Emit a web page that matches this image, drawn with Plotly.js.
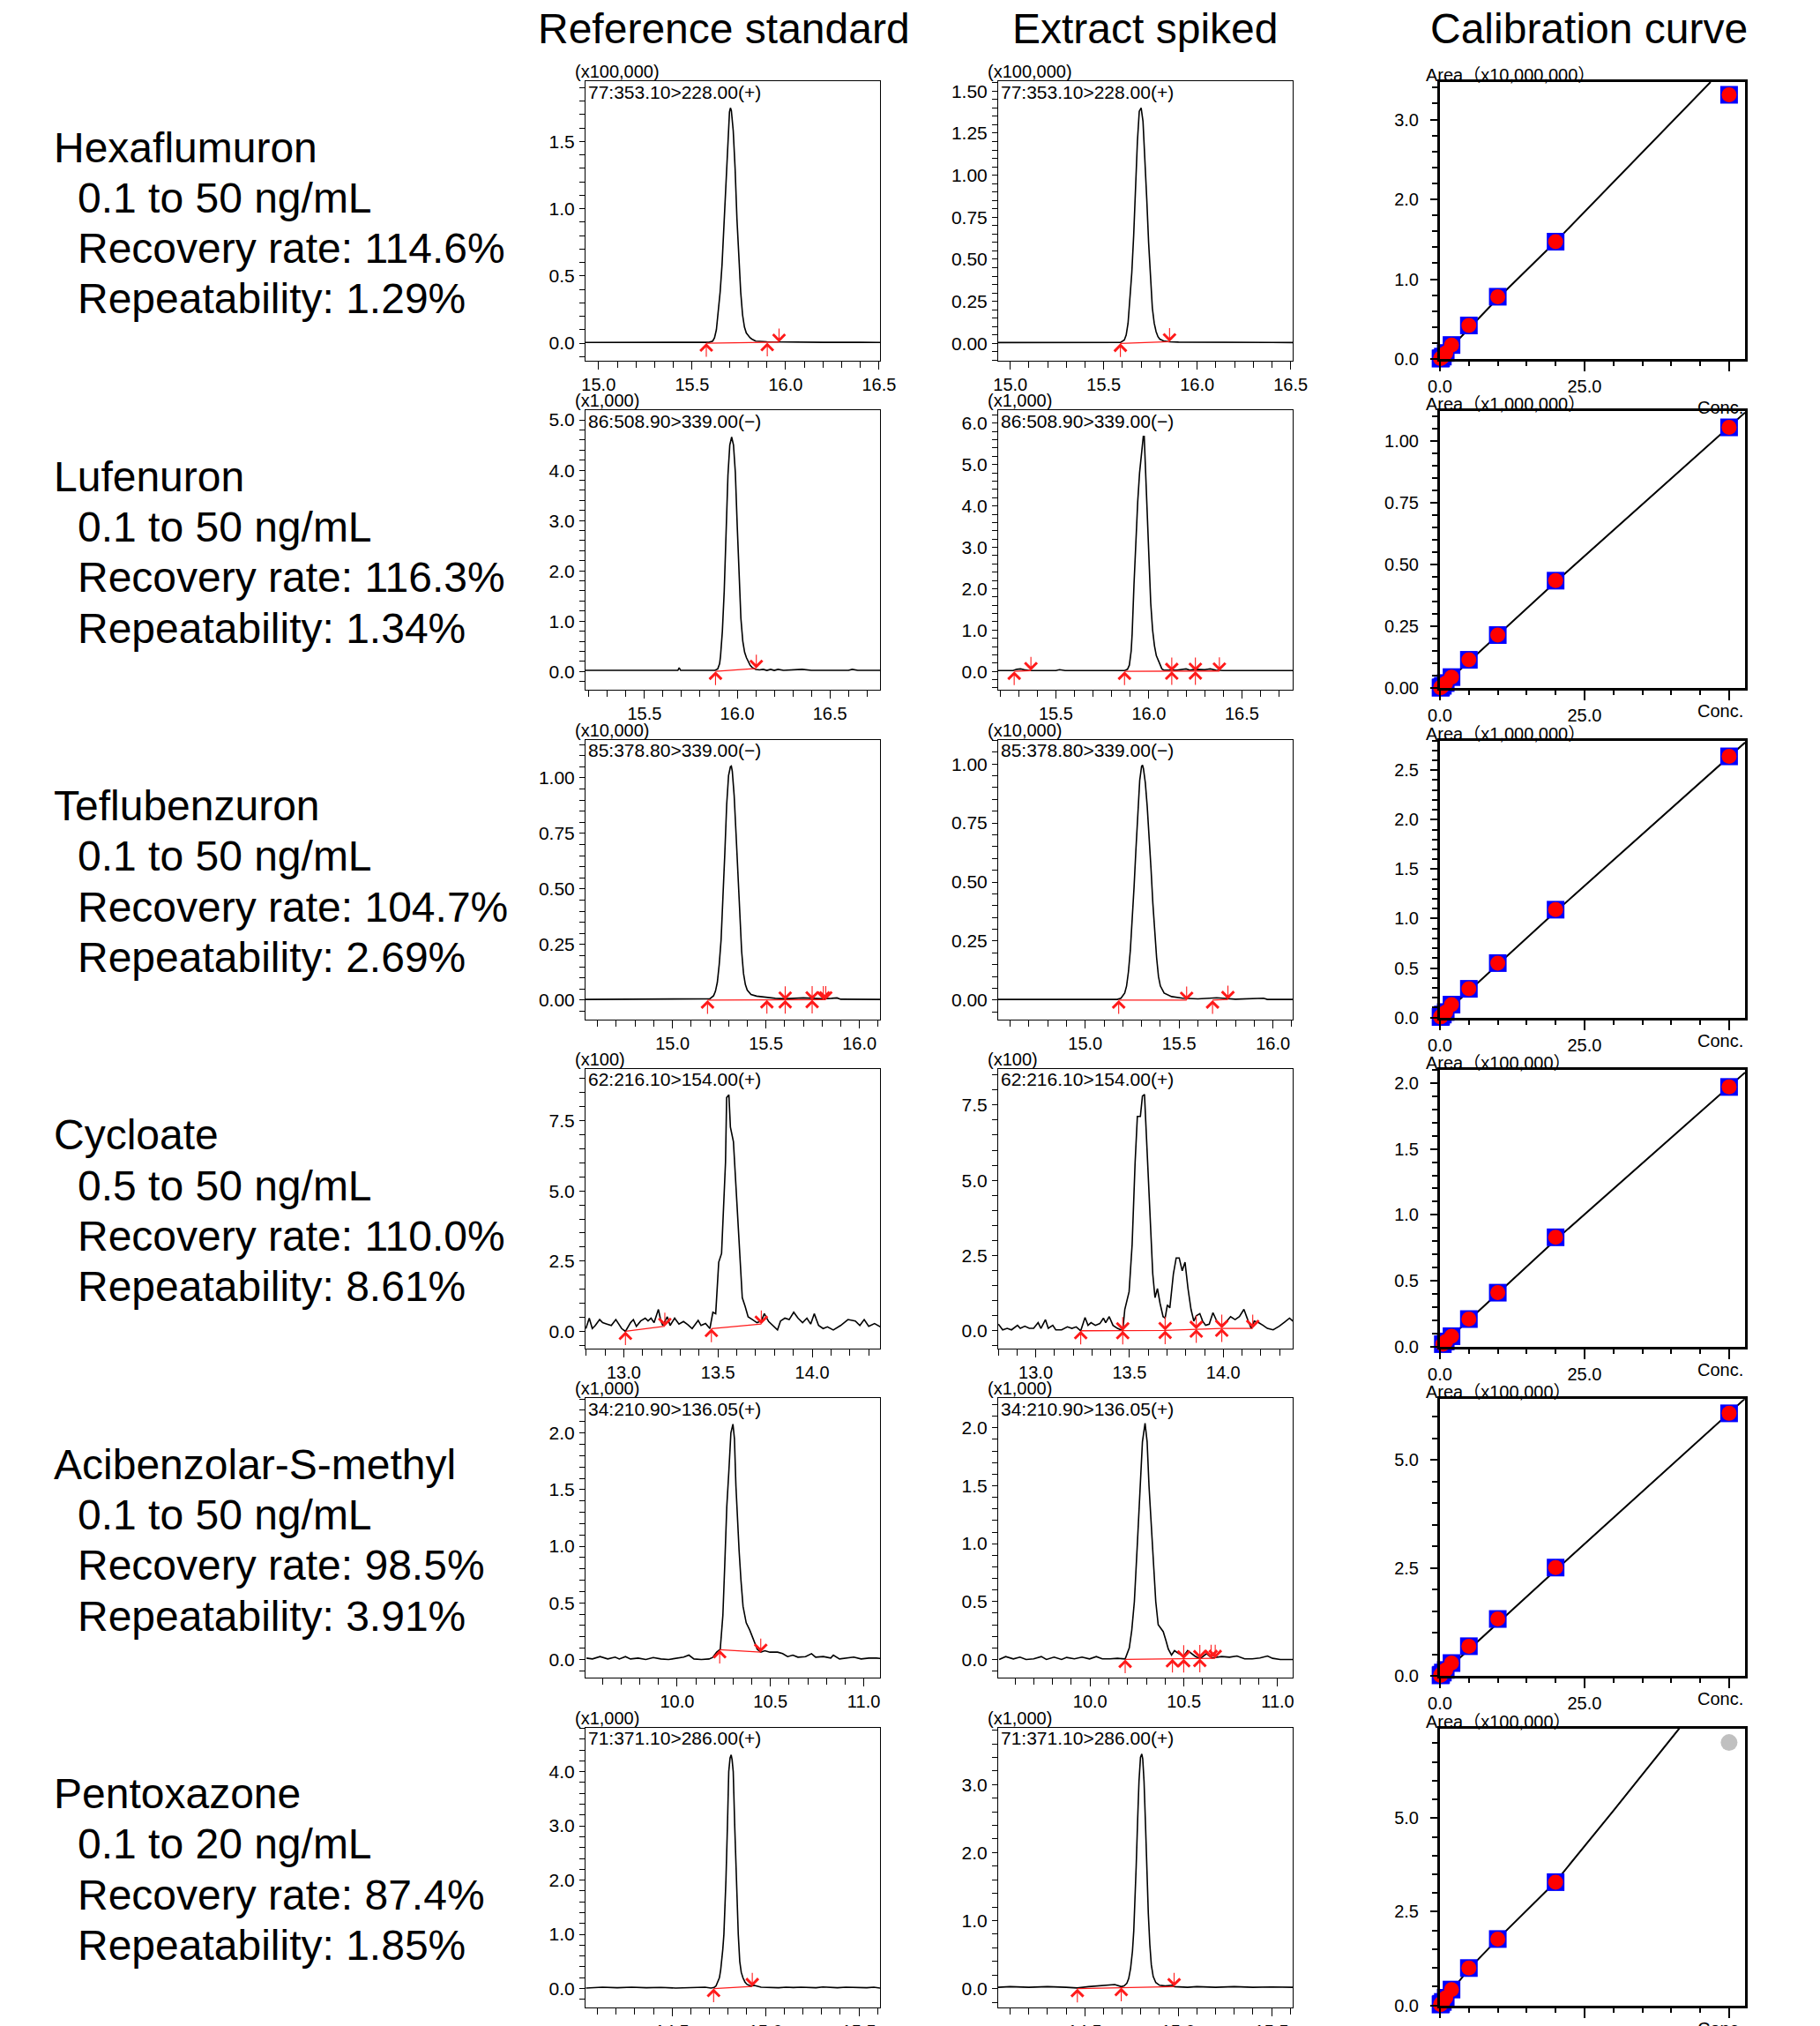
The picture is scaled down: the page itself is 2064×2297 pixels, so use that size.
<!DOCTYPE html>
<html><head><meta charset="utf-8">
<script src="https://cdn.plot.ly/plotly-3.0.1.min.js"></script>
<style>html,body{margin:0;padding:0;background:#fff;}#chart{width:2064px;height:2297px;}</style>
</head><body><div id="chart"></div>
<script>
// ================= DATA =================
const columnTitles = ['Reference standard', 'Extract spiked', 'Calibration curve'];
const compounds = ['Hexaflumuron', 'Lufenuron', 'Teflubenzuron', 'Cycloate', 'Acibenzolar-S-methyl', 'Pentoxazone'];
const calRanges = ['0.1 to 50 ng/mL', '0.1 to 50 ng/mL', '0.1 to 50 ng/mL', '0.5 to 50 ng/mL', '0.1 to 50 ng/mL', '0.1 to 20 ng/mL'];
const recoveryRates = ['114.6%', '116.3%', '104.7%', '110.0%', '98.5%', '87.4%'];
const repeatabilities = ['1.29%', '1.34%', '2.69%', '8.61%', '3.91%', '1.85%'];
const transitions = ['77:353.10>228.00(+)', '86:508.90>339.00(\u2212)', '85:378.80>339.00(\u2212)', '62:216.10>154.00(+)', '34:210.90>136.05(+)', '71:371.10>286.00(+)'];
const intensityScales = ['(x100,000)', '(x1,000)', '(x10,000)', '(x100)', '(x1,000)', '(x1,000)'];
const areaScales = ['Area\uFF08x10,000,000\uFF09', 'Area\uFF08x1,000,000\uFF09', 'Area\uFF08x1,000,000\uFF09', 'Area\uFF08x100,000\uFF09', 'Area\uFF08x100,000\uFF09', 'Area\uFF08x100,000\uFF09'];
const concTickLabels = ['0.0', '25.0', 'Conc.'];

// chromatograms: [retention time (min), intensity]
const hexaRefPts = [[14.93,0.005],[15.2,0.005],[15.4,0.005],[15.55,0.005],[15.59,0.006],[15.61,0.015],[15.62,0.04],[15.63,0.10],[15.64,0.22],[15.65,0.38],[15.66,0.58],[15.67,0.88],[15.68,1.22],[15.69,1.52],[15.70,1.72],[15.705,1.75],[15.71,1.73],[15.72,1.58],[15.73,1.30],[15.74,0.92],[15.75,0.62],[15.76,0.38],[15.77,0.21],[15.78,0.12],[15.79,0.075],[15.80,0.055],[15.81,0.04],[15.82,0.03],[15.84,0.015],[15.9,0.01],[16.0,0.008],[16.2,0.006],[16.4,0.006],[16.505,0.005]];
const hexaSpkPts = [[14.935,0.005],[15.2,0.005],[15.4,0.005],[15.55,0.005],[15.59,0.006],[15.61,0.02],[15.62,0.05],[15.63,0.12],[15.64,0.25],[15.65,0.42],[15.66,0.64],[15.67,0.92],[15.68,1.20],[15.69,1.38],[15.70,1.40],[15.71,1.32],[15.72,1.12],[15.73,0.86],[15.74,0.60],[15.75,0.38],[15.76,0.21],[15.77,0.12],[15.78,0.07],[15.79,0.04],[15.80,0.025],[15.82,0.015],[15.85,0.01],[15.9,0.008],[16.0,0.008],[16.2,0.006],[16.3,0.009],[16.4,0.006],[16.511,0.005]];
const lufeRefPts = [[15.18,0.02],[15.4,0.02],[15.6,0.02],[15.68,0.02],[15.687,0.07],[15.695,0.02],[15.8,0.02],[15.88,0.02],[15.895,0.05],[15.905,0.15],[15.91,0.30],[15.915,0.50],[15.92,0.80],[15.93,1.60],[15.94,2.80],[15.95,3.90],[15.96,4.50],[15.97,4.66],[15.98,4.50],[15.99,3.95],[16.00,2.90],[16.01,1.80],[16.02,1.05],[16.03,0.60],[16.04,0.38],[16.05,0.27],[16.06,0.18],[16.07,0.12],[16.08,0.08],[16.10,0.04],[16.12,0.03],[16.14,0.04],[16.16,0.02],[16.18,0.04],[16.2,0.02],[16.22,0.04],[16.25,0.02],[16.3,0.03],[16.35,0.04],[16.4,0.02],[16.5,0.02],[16.6,0.02],[16.62,0.04],[16.65,0.02],[16.77,0.02]];
const lufeSpkPts = [[15.19,0.02],[15.25,0.02],[15.27,0.02],[15.29,0.05],[15.31,0.06],[15.33,0.04],[15.36,0.02],[15.4,0.02],[15.5,0.02],[15.52,0.04],[15.55,0.02],[15.7,0.02],[15.87,0.02],[15.885,0.05],[15.895,0.15],[15.905,0.5],[15.91,0.9],[15.92,2.1],[15.93,3.2],[15.94,4.1],[15.95,4.8],[15.96,5.3],[15.97,5.68],[15.975,5.68],[15.98,5.1],[15.99,3.6],[16.00,2.55],[16.01,1.65],[16.02,1.0],[16.03,0.62],[16.04,0.38],[16.05,0.26],[16.06,0.14],[16.07,0.06],[16.08,0.03],[16.1,0.03],[16.15,0.03],[16.2,0.06],[16.22,0.03],[16.25,0.05],[16.3,0.04],[16.33,0.06],[16.36,0.03],[16.4,0.02],[16.5,0.02],[16.6,0.02],[16.7,0.02],[16.773,0.02]];
const teflRefPts = [[14.535,0.003],[14.8,0.003],[15.0,0.003],[15.18,0.003],[15.20,0.006],[15.22,0.02],[15.23,0.04],[15.24,0.08],[15.25,0.16],[15.26,0.27],[15.27,0.44],[15.28,0.66],[15.29,0.88],[15.30,1.01],[15.31,1.05],[15.315,1.053],[15.32,1.03],[15.33,0.92],[15.34,0.75],[15.35,0.56],[15.36,0.38],[15.37,0.22],[15.38,0.12],[15.39,0.07],[15.40,0.045],[15.42,0.025],[15.45,0.018],[15.5,0.012],[15.55,0.008],[15.6,0.006],[15.65,0.008],[15.7,0.01],[15.75,0.008],[15.8,0.006],[15.85,0.008],[15.88,0.01],[15.9,0.004],[16.0,0.003],[16.11,0.003]];
const teflSpkPts = [[14.535,0.003],[14.8,0.003],[15.0,0.003],[15.17,0.003],[15.19,0.008],[15.21,0.03],[15.22,0.06],[15.23,0.12],[15.24,0.21],[15.25,0.33],[15.26,0.48],[15.27,0.64],[15.28,0.81],[15.29,0.93],[15.30,0.99],[15.305,0.995],[15.31,0.98],[15.32,0.92],[15.33,0.82],[15.34,0.70],[15.35,0.56],[15.36,0.41],[15.37,0.29],[15.38,0.18],[15.39,0.10],[15.40,0.06],[15.42,0.03],[15.46,0.015],[15.52,0.008],[15.6,0.005],[15.7,0.01],[15.75,0.006],[15.8,0.004],[15.95,0.008],[15.97,0.003],[16.105,0.003]];
const cyclRefPts = [[12.799,0.10],[12.817,0.47],[12.833,0.10],[12.849,0.21],[12.872,0.42],[12.888,0.31],[12.911,0.26],[12.934,0.21],[12.958,0.42],[12.973,0.26],[12.989,0.10],[13.009,0.0],[13.036,0.31],[13.051,0.42],[13.067,0.18],[13.09,0.37],[13.114,0.47],[13.129,0.37],[13.145,0.47],[13.161,0.31],[13.184,0.78],[13.197,0.37],[13.207,0.21],[13.231,0.52],[13.246,0.21],[13.27,0.47],[13.293,0.26],[13.317,0.35],[13.34,0.24],[13.363,0.10],[13.395,0.39],[13.41,0.21],[13.434,0.28],[13.457,0.10],[13.473,0.68],[13.488,0.63],[13.504,2.46],[13.519,2.77],[13.527,4.13],[13.54,6.01],[13.546,8.32],[13.558,8.42],[13.566,7.27],[13.582,6.75],[13.598,4.86],[13.613,2.88],[13.629,1.20],[13.644,0.89],[13.66,0.52],[13.683,0.42],[13.707,0.31],[13.73,0.37],[13.746,0.63],[13.769,0.35],[13.793,0.21],[13.816,0.05],[13.832,0.37],[13.855,0.47],[13.878,0.42],[13.902,0.68],[13.925,0.47],[13.949,0.31],[13.972,0.47],[13.992,0.26],[14.011,0.63],[14.034,0.21],[14.058,0.10],[14.081,0.16],[14.112,0.05],[14.151,0.21],[14.19,0.42],[14.229,0.37],[14.253,0.21],[14.276,0.42],[14.3,0.18],[14.331,0.28],[14.362,0.16]];
const cyclSpkPts = [[12.801,0.22],[12.824,0.03],[12.848,0.08],[12.871,0.03],[12.903,0.18],[12.918,0.08],[12.942,0.15],[12.966,0.08],[12.989,0.08],[13.013,0.27],[13.028,0.08],[13.052,0.37],[13.067,0.08],[13.091,0.18],[13.107,0.03],[13.138,0.03],[13.169,0.13],[13.193,0.08],[13.216,0.13],[13.24,0.0],[13.263,0.44],[13.279,0.18],[13.295,0.27],[13.318,0.18],[13.342,0.24],[13.361,0.42],[13.373,0.27],[13.392,0.47],[13.412,0.18],[13.436,0.08],[13.464,0.0],[13.475,0.71],[13.498,1.30],[13.514,2.86],[13.53,5.6],[13.542,7.12],[13.558,7.12],[13.569,7.8],[13.58,7.85],[13.588,6.77],[13.6,4.82],[13.611,3.35],[13.624,1.89],[13.636,1.10],[13.649,1.40],[13.663,0.91],[13.679,0.47],[13.69,0.42],[13.702,0.86],[13.715,0.76],[13.734,1.89],[13.749,2.42],[13.765,2.42],[13.781,1.99],[13.796,2.28],[13.812,1.40],[13.828,0.71],[13.843,0.32],[13.856,0.50],[13.875,0.57],[13.89,0.32],[13.906,0.18],[13.925,0.22],[13.945,0.60],[13.969,0.27],[13.992,0.18],[14.016,0.30],[14.039,0.47],[14.063,0.37],[14.086,0.47],[14.11,0.71],[14.133,0.32],[14.149,0.08],[14.165,0.32],[14.188,0.27],[14.212,0.18],[14.235,0.08],[14.266,0.03],[14.298,0.15],[14.329,0.30],[14.353,0.42],[14.371,0.32]];
const aciRefPts = [[9.514,0.013],[9.546,0.005],[9.587,0.026],[9.628,0.005],[9.668,0.021],[9.69,0.005],[9.723,0.026],[9.75,0.005],[9.791,0.013],[9.832,0.0],[9.872,0.018],[9.913,0.005],[9.954,0.0],[9.995,0.013],[10.035,0.021],[10.063,0.039],[10.09,0.005],[10.13,0.0],[10.171,0.005],[10.19,0.018],[10.212,0.065],[10.231,0.091],[10.245,0.39],[10.255,0.83],[10.266,1.35],[10.277,1.66],[10.288,2.0],[10.299,2.078],[10.307,1.95],[10.315,1.53],[10.323,1.22],[10.332,0.96],[10.342,0.70],[10.353,0.47],[10.37,0.325],[10.389,0.26],[10.408,0.18],[10.429,0.091],[10.448,0.065],[10.47,0.078],[10.497,0.065],[10.538,0.065],[10.565,0.052],[10.592,0.026],[10.62,0.039],[10.647,0.021],[10.688,0.026],[10.72,0.052],[10.742,0.021],[10.783,0.026],[10.823,0.013],[10.837,0.039],[10.87,0.005],[10.905,0.013],[10.946,0.021],[10.986,0.005],[11.027,0.013],[11.068,0.013],[11.09,0.01]];
const aciSpkPts = [[9.515,0.0],[9.55,0.025],[9.591,0.005],[9.626,0.02],[9.659,0.0],[9.699,0.005],[9.74,0.025],[9.767,0.0],[9.808,0.02],[9.848,0.0],[9.875,0.018],[9.916,0.005],[9.957,0.02],[9.997,0.005],[10.033,0.025],[10.065,0.005],[10.106,0.005],[10.146,0.01],[10.187,0.005],[10.209,0.10],[10.222,0.25],[10.236,0.50],[10.252,1.0],[10.266,1.5],[10.279,1.88],[10.293,2.04],[10.304,1.88],[10.314,1.5],[10.331,1.0],[10.35,0.5],[10.363,0.30],[10.377,0.27],[10.39,0.24],[10.404,0.165],[10.417,0.09],[10.434,0.038],[10.45,0.076],[10.477,0.046],[10.499,0.03],[10.52,0.076],[10.558,0.03],[10.585,0.005],[10.621,0.05],[10.648,0.013],[10.702,0.025],[10.743,0.02],[10.783,0.03],[10.824,0.005],[10.864,0.005],[10.905,0.013],[10.946,0.03],[10.973,0.01],[11.014,0.0],[11.087,0.0]];
const pentRefPts = [[14.038,0.01],[14.127,0.027],[14.206,0.016],[14.283,0.027],[14.362,0.016],[14.44,0.022],[14.519,0.01],[14.598,0.022],[14.676,0.027],[14.708,0.011],[14.725,0.022],[14.735,0.05],[14.745,0.12],[14.753,0.2],[14.76,0.35],[14.765,0.5],[14.771,0.72],[14.777,1.0],[14.783,1.5],[14.788,2.0],[14.796,3.0],[14.803,4.0],[14.81,4.25],[14.816,4.31],[14.821,4.22],[14.827,4.0],[14.835,3.0],[14.843,2.0],[14.849,1.4],[14.854,1.0],[14.862,0.5],[14.87,0.3],[14.879,0.2],[14.89,0.12],[14.9,0.08],[14.921,0.045],[14.935,0.06],[14.945,0.055],[14.976,0.027],[15.02,0.02],[15.07,0.016],[15.11,0.027],[15.149,0.02],[15.19,0.027],[15.228,0.022],[15.27,0.016],[15.307,0.03],[15.345,0.02],[15.385,0.016],[15.43,0.025],[15.464,0.022],[15.5,0.02],[15.542,0.016],[15.58,0.025],[15.613,0.01]];
const pentSpkPts = [[14.036,0.02],[14.1,0.03],[14.2,0.02],[14.3,0.03],[14.4,0.02],[14.46,0.01],[14.52,0.03],[14.58,0.04],[14.62,0.05],[14.66,0.06],[14.695,0.03],[14.71,0.04],[14.725,0.08],[14.735,0.15],[14.745,0.3],[14.755,0.55],[14.762,0.85],[14.768,1.25],[14.775,1.8],[14.783,2.5],[14.79,3.05],[14.798,3.4],[14.805,3.45],[14.81,3.38],[14.817,3.05],[14.825,2.4],[14.832,1.7],[14.84,1.1],[14.848,0.65],[14.856,0.35],[14.866,0.18],[14.88,0.09],[14.9,0.05],[14.93,0.04],[14.97,0.05],[14.98,0.03],[15.05,0.02],[15.1,0.03],[15.2,0.02],[15.3,0.03],[15.4,0.02],[15.5,0.025],[15.613,0.02]];

// peak integration marks: baselines [t, y] (null splits) and arrows [kind, t, y]  (u = start, d = end, x = split)
const hexaRefBase = [[15.576,0.0],[15.965,0.007]];
const hexaRefArrows = [['u',15.576,0.0],['u',15.902,0.003],['d',15.965,0.007]];
const hexaSpkBase = [[15.589,0.0],[15.852,0.01]];
const hexaSpkArrows = [['u',15.589,0.0],['d',15.852,0.01]];
const lufeRefBase = [[15.883,0.0],[16.103,0.06]];
const lufeRefArrows = [['u',15.883,0.0],['d',16.103,0.06]];
const lufeSpkBase = [[15.276,0.0],[15.366,0.02],[null,null],[15.869,0.0],[16.379,0.01]];
const lufeSpkArrows = [['u',15.276,0.0],['d',15.366,0.02],['u',15.869,0.0],['x',16.123,0.003],['x',16.25,0.006],['d',16.379,0.01]];
const teflRefBase = [[15.1875,0.0],[15.82,0.002]];
const teflRefArrows = [['u',15.1875,0.0],['u',15.505,0.001],['x',15.603,0.001],['x',15.747,0.002],['d',15.807,0.002],['d',15.82,0.002]];
const teflSpkBase = [[15.178,0.0],[15.54,0.0],[null,null],[15.678,0.0],[15.76,0.003]];
const teflSpkArrows = [['u',15.178,0.0],['d',15.54,0.0],['u',15.678,0.0],['d',15.76,0.003]];
const cyclRefBase = [[13.009,0.0],[13.218,0.18],[null,null],[13.465,0.10],[13.73,0.26]];
const cyclRefArrows = [['u',13.009,0.0],['d',13.218,0.18],['u',13.465,0.10],['d',13.73,0.26]];
const cyclSpkBase = [[13.24,0.0],[13.464,0.0],[13.69,0.01],[13.856,0.05],[13.992,0.08],[14.157,0.08]];
const cyclSpkArrows = [['u',13.24,0.0],['x',13.464,0.0],['x',13.69,0.01],['x',13.856,0.05],['x',13.992,0.08],['d',14.157,0.08]];
const aciRefBase = [[10.228,0.086],[10.448,0.065]];
const aciRefArrows = [['u',10.228,0.086],['d',10.448,0.065]];
const aciSpkBase = [[10.187,0.0],[10.667,0.01]];
const aciSpkArrows = [['u',10.187,0.0],['u',10.439,0.005],['x',10.499,0.006],['x',10.585,0.008],['d',10.645,0.01],['d',10.667,0.01]];
const pentRefBase = [[14.722,0.0],[14.929,0.04]];
const pentRefArrows = [['u',14.722,0.0],['d',14.929,0.04]];
const pentSpkBase = [[14.46,0.0],[14.978,0.03]];
const pentSpkArrows = [['u',14.46,0.0],['u',14.695,0.015],['d',14.978,0.03]];

// axis extents of the chromatograms [xmin,xmax], [ymin,ymax], label step, minor step, format
const chromXRanges = [[14.93,16.505],[14.935,16.511],[15.182,16.77],[15.19,16.773],[14.535,16.11],[14.536,16.105],[12.797,14.36],[12.80,14.37],[9.509,11.087],[9.51,11.08],[14.036,15.613],[14.036,15.613]];
const chromYRanges = [[-0.131,1.949],[-0.103,1.559],[-0.37,5.19],[-0.45,6.31],[-0.086,1.172],[-0.081,1.103],[-0.61,9.34],[-0.59,8.70],[-0.161,2.307],[-0.158,2.256],[-0.34,4.815],[-0.27,3.84]];
const chromYSteps = [0.5,0.25,1,1,0.25,0.25,2.5,2.5,0.5,0.5,1,1];
const chromYMinor = [0.1,0.05,0.2,0.2,0.05,0.05,0.5,0.5,0.1,0.1,0.2,0.2];
const chromYFormat = ['.1f','.2f','.1f','.1f','.2f','.2f','.1f','.1f','.1f','.1f','.1f','.1f'];

// calibration curves: concentration (ng/mL) vs area
const concStd = [0.1, 0.2, 0.5, 1, 2, 5, 10, 20, 50];
const concCycl = [0.5, 1, 2, 5, 10, 20, 50];
const concPent = [0.1, 0.2, 0.5, 1, 2, 5, 10, 20];
const areaHexa = [0.005, 0.01, 0.03, 0.075, 0.175, 0.42, 0.78, 1.47, 3.31];
const areaLufe = [0.002, 0.004, 0.01, 0.021, 0.045, 0.115, 0.215, 0.435, 1.055];
const areaTefl = [0.005, 0.01, 0.03, 0.055, 0.13, 0.29, 0.55, 1.09, 2.64];
const areaCycl = [0.02, 0.04, 0.08, 0.21, 0.41, 0.83, 1.97];
const areaAci = [0.015, 0.03, 0.08, 0.14, 0.30, 0.69, 1.32, 2.51, 6.08];
const areaPent = [0.02, 0.04, 0.09, 0.20, 0.42, 0.995, 1.77, 3.29];
const excludedConcPent = [50];
const excludedAreaPent = [7.02];
const fitHexaX = [0, 10, 20, 46.8], fitHexaY = [0, 0.76, 1.47, 3.47];
const fitLufeX = [0, 20, 52.76], fitLufeY = [0, 0.43, 1.115];
const fitTeflX = [0, 20, 52.76], fitTeflY = [0, 1.07, 2.78];
const fitCyclX = [0, 20, 52.76], fitCyclY = [0, 0.81, 2.08];
const fitAciX = [0, 20, 52.76], fitAciY = [0, 2.45, 6.42];
const fitPentX = [0, 5, 10, 20, 30, 41.4], fitPentY = [0, 0.97, 1.77, 3.3, 5.2, 7.4];
const calYTop = [3.47, 1.12, 2.8, 2.1, 6.41, 7.4];
const calYSteps = [1, 0.25, 0.5, 0.5, 2.5, 2.5];
const calYMinor = [0.2, 0.05, 0.1, 0.1, 0.5, 0.5];
const calYFormat = ['.1f', '.2f', '.1f', '.1f', '.1f', '.1f'];
const calXMax = 52.76;

// ================= LAYOUT =================
const W = 2064, H = 2297;
const FONT = 'Liberation Sans, Arial, Noto Sans CJK JP, sans-serif';
const ROW0 = 92, PITCH = 373.3, BOXH = 317;
const COLL = [664, 1132], COLW = 334;
const CALL = 1633, CALR = 1979;
const fx = p => p / W, fy = p => 1 - p / H;

const chromPts = [hexaRefPts, hexaSpkPts, lufeRefPts, lufeSpkPts, teflRefPts, teflSpkPts, cyclRefPts, cyclSpkPts, aciRefPts, aciSpkPts, pentRefPts, pentSpkPts];
const chromBase = [hexaRefBase, hexaSpkBase, lufeRefBase, lufeSpkBase, teflRefBase, teflSpkBase, cyclRefBase, cyclSpkBase, aciRefBase, aciSpkBase, pentRefBase, pentSpkBase];
const chromArrows = [hexaRefArrows, hexaSpkArrows, lufeRefArrows, lufeSpkArrows, teflRefArrows, teflSpkArrows, cyclRefArrows, cyclSpkArrows, aciRefArrows, aciSpkArrows, pentRefArrows, pentSpkArrows];
const calConc = [concStd, concStd, concStd, concCycl, concStd, concPent];
const calArea = [areaHexa, areaLufe, areaTefl, areaCycl, areaAci, areaPent];
const fitX = [fitHexaX, fitLufeX, fitTeflX, fitCyclX, fitAciX, fitPentX];
const fitY = [fitHexaY, fitLufeY, fitTeflY, fitCyclY, fitAciY, fitPentY];

const layout = {
  width: W, height: H, margin: {l: 0, r: 0, t: 0, b: 0},
  paper_bgcolor: '#fff', plot_bgcolor: '#fff', showlegend: false,
  font: {family: FONT, color: '#000'}, annotations: []
};
const traces = [];
const axName = (k, i) => (i === 1 ? k + 'axis' : k + 'axis' + i);
const axRef = (k, i) => (i === 1 ? k : k + i);
const ann = a => layout.annotations.push(Object.assign({showarrow: false, font: {family: FONT, size: 22, color: '#000'}}, a));

// column titles
[821, 1298, 1802].forEach((cx, c) => ann({xref: 'paper', yref: 'paper', x: fx(cx), y: fy(33), xanchor: 'center', yanchor: 'middle', text: columnTitles[c], font: {family: FONT, size: 48, color: '#000'}}));

for (let r = 0; r < 6; r++) {
  const top = ROW0 + r * PITCH;
  // left description
  const lines = [compounds[r], calRanges[r], 'Recovery rate: ' + recoveryRates[r], 'Repeatability: ' + repeatabilities[r]];
  lines.forEach((t, k) => ann({xref: 'paper', yref: 'paper', x: fx(k === 0 ? 59 : 86), y: fy(183 + r * PITCH + k * 57.3 - 16), xanchor: 'left', yanchor: 'middle', text: t, font: {family: FONT, size: 48, color: '#000'}}));

  // chromatograms
  for (let c = 0; c < 2; c++) {
    const p = r * 2 + c, idx = r * 3 + c + 1, left = COLL[c];
    layout[axName('x', idx)] = {
      domain: [fx(left), fx(left + COLW)], anchor: axRef('y', idx), range: chromXRanges[p],
      showline: true, mirror: true, linecolor: '#000', linewidth: 1, showgrid: false, zeroline: false,
      ticks: 'outside', ticklen: 9, tickwidth: 1, tickcolor: '#000', tick0: 0, dtick: 0.5, tickformat: '.1f',
      minor: {ticks: 'outside', tick0: 0, dtick: 0.1, ticklen: 7, tickwidth: 1, tickcolor: '#000', showgrid: false},
      tickfont: {family: FONT, size: 20, color: '#000'}, fixedrange: true
    };
    layout[axName('y', idx)] = {
      domain: [fy(top + BOXH), fy(top)], anchor: axRef('x', idx), range: chromYRanges[p],
      showline: true, mirror: true, linecolor: '#000', linewidth: 1, showgrid: false, zeroline: false,
      ticks: 'outside', ticklen: 6, tickwidth: 1, tickcolor: '#000', tick0: 0, dtick: chromYSteps[p], tickformat: chromYFormat[p],
      minor: {ticks: 'outside', tick0: 0, dtick: chromYMinor[p], ticklen: 6, tickwidth: 1, tickcolor: '#000', showgrid: false},
      tickfont: {family: FONT, size: 21, color: '#000'}, ticklabelstandoff: 1, fixedrange: true
    };
    traces.push({type: 'scatter', mode: 'lines', xaxis: axRef('x', idx), yaxis: axRef('y', idx),
      x: chromPts[p].map(d => d[0]), y: chromPts[p].map(d => d[1]), line: {color: '#000', width: 1.6}, hoverinfo: 'skip'});
    traces.push({type: 'scatter', mode: 'lines', xaxis: axRef('x', idx), yaxis: axRef('y', idx), connectgaps: false,
      x: chromBase[p].map(d => d[0]), y: chromBase[p].map(d => d[1]), line: {color: '#ff1a1a', width: 1.3}, hoverinfo: 'skip'});
    chromArrows[p].forEach(a => {
      const dirs = a[0] === 'x' ? [17, -17] : [a[0] === 'u' ? 17 : -17];
      dirs.forEach(ay => layout.annotations.push({xref: axRef('x', idx), yref: axRef('y', idx), x: a[1], y: a[2], ax: 0, ay: ay,
        text: '', showarrow: true, arrowhead: 4, arrowsize: 2.4, arrowwidth: 1.1, arrowcolor: '#ff1a1a', standoff: 0}));
    });
    ann({xref: 'paper', yref: 'paper', x: fx(left - 14), y: fy(top - 11), xanchor: 'left', yanchor: 'middle', text: intensityScales[r], font: {family: FONT, size: 20, color: '#000'}});
    ann({xref: 'paper', yref: 'paper', x: fx(left + 1), y: fy(top + 12), xanchor: 'left', yanchor: 'middle', text: transitions[r], font: {family: FONT, size: 21, color: '#000'}});
  }

  // calibration curve
  const idx = r * 3 + 3, ctop = top + 1, cbot = top + 315;
  layout[axName('x', idx)] = {
    domain: [fx(CALL), fx(CALR)], anchor: axRef('y', idx), range: [0, calXMax],
    showline: true, mirror: true, linecolor: '#000', linewidth: 3, showgrid: false, zeroline: false,
    tickmode: 'array', tickvals: [0, 25, 50], ticktext: [concTickLabels[0], concTickLabels[1], ''],
    ticks: 'outside', ticklen: 11, tickwidth: 2, tickcolor: '#000',
    minor: {ticks: 'outside', tickmode: 'linear', tick0: 0, dtick: 5, ticklen: 5, tickwidth: 2, tickcolor: '#000', showgrid: false},
    tickfont: {family: FONT, size: 20, color: '#000'}, fixedrange: true
  };
  layout[axName('y', idx)] = {
    domain: [fy(cbot), fy(ctop)], anchor: axRef('x', idx), range: [0, calYTop[r]],
    showline: true, mirror: true, linecolor: '#000', linewidth: 3, showgrid: false, zeroline: false,
    ticks: 'outside', ticklen: 8, tickwidth: 2, tickcolor: '#000', tick0: 0, dtick: calYSteps[r], tickformat: calYFormat[r],
    minor: {ticks: 'outside', tick0: 0, dtick: calYMinor[r], ticklen: 6, tickwidth: 2, tickcolor: '#000', showgrid: false},
    tickfont: {family: FONT, size: 20, color: '#000'}, ticklabelstandoff: 9, fixedrange: true
  };
  traces.push({type: 'scatter', mode: 'lines', xaxis: axRef('x', idx), yaxis: axRef('y', idx), x: fitX[r], y: fitY[r], line: {color: '#000', width: 2}, hoverinfo: 'skip'});
  traces.push({type: 'scatter', mode: 'markers', xaxis: axRef('x', idx), yaxis: axRef('y', idx), x: calConc[r], y: calArea[r], cliponaxis: false,
    marker: {symbol: 'square', size: 20, color: '#0000ff', line: {width: 0}}, hoverinfo: 'skip'});
  traces.push({type: 'scatter', mode: 'markers', xaxis: axRef('x', idx), yaxis: axRef('y', idx), x: calConc[r], y: calArea[r], cliponaxis: false,
    marker: {symbol: 'circle', size: 17, color: '#ff0000', line: {width: 0}}, hoverinfo: 'skip'});
  if (r === 5) {
    traces.push({type: 'scatter', mode: 'markers', xaxis: axRef('x', idx), yaxis: axRef('y', idx), x: excludedConcPent, y: excludedAreaPent, cliponaxis: false,
      marker: {symbol: 'circle', size: 19, color: '#c0c0c0', line: {width: 0}}, hoverinfo: 'skip'});
  }
  ann({xref: 'paper', yref: 'paper', x: fx(1615), y: fy(ctop - 8), xanchor: 'left', yanchor: 'middle', text: areaScales[r], font: {family: FONT, size: 20, color: '#000'}});
  ann({xref: 'paper', yref: 'paper', x: fx(1979), y: fy(r === 0 ? cbot + 55 : cbot + 26), xanchor: 'right', yanchor: 'middle', text: concTickLabels[2], font: {family: FONT, size: 20, color: '#000'}});
}

Plotly.newPlot('chart', traces, layout, {staticPlot: true, displayModeBar: false});
</script>
</body></html>
